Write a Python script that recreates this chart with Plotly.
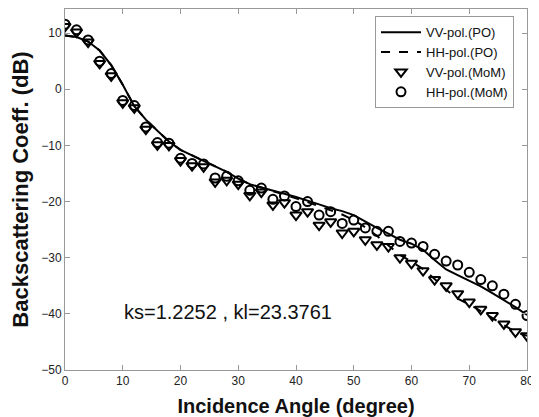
import plotly.graph_objects as go

# PO curves (incidence angle in degrees, backscatter in dB)
angle_po = [0, 2, 4, 6, 8, 10, 12, 14, 16, 18, 20, 22, 24, 26, 28, 30, 32, 34, 36, 38,
            40, 42, 44, 46, 48, 50, 52, 54, 56, 58, 60, 62, 64, 66, 68, 70, 72, 74, 76, 78, 80]
vv_po = [9.6, 9.3, 8.5, 6.9, 4.3, 0.8, -3.0, -5.4, -7.4, -9.3, -10.8, -11.8, -12.7, -13.7,
         -14.7, -15.9, -16.9, -17.5, -18.0, -18.6, -19.2, -19.8, -20.5, -21.2, -21.7, -22.4,
         -23.6, -24.7, -25.7, -26.8, -27.5, -28.6, -30.4, -32.1, -33.1, -34.1, -35.1, -36.3,
         -37.5, -38.8, -40.2]
hh_po = [9.6, 9.3, 8.5, 6.9, 4.3, 0.8, -3.0, -5.4, -7.4, -9.3, -10.8, -11.8, -12.7, -13.7,
         -14.7, -15.9, -16.9, -17.5, -18.1, -18.7, -19.4, -20.1, -20.8, -21.5, -22.3, -23.3,
         -24.6, -26.1, -27.8, -29.5, -30.7, -32.0, -33.8, -35.7, -37.3, -38.3, -39.5, -40.8,
         -42.0, -43.2, -43.9]

# MoM samples
angle_mom = [0, 2, 4, 6, 8, 10, 12, 14, 16, 18, 20, 22, 24, 26, 28, 30, 32, 34, 36, 38,
             40, 42, 44, 46, 48, 50, 52, 54, 56, 58, 60, 62, 64, 66, 68, 70, 72, 74, 76, 78, 80]
vv_mom = [11.2, 10.2, 8.4, 4.6, 2.4, -2.4, -3.3, -7.1, -9.9, -10.0, -12.7, -13.6, -13.8,
          -16.5, -16.2, -16.9, -18.9, -18.3, -20.6, -20.2, -22.4, -21.8, -24.2, -23.6, -25.6,
          -25.3, -26.8, -27.7, -28.0, -30.0, -31.0, -32.3, -33.9, -35.0, -36.4, -37.9, -39.2,
          -40.3, -41.8, -43.2, -43.9]
hh_mom = [11.6, 10.6, 8.8, 5.0, 2.8, -2.0, -2.9, -6.7, -9.5, -9.6, -12.3, -13.2, -13.3,
          -15.8, -15.5, -16.3, -18.0, -17.6, -19.6, -19.0, -20.9, -20.0, -22.4, -21.8, -23.9,
          -23.3, -24.7, -25.3, -25.3, -27.1, -27.4, -28.0, -29.4, -30.6, -31.3, -32.6, -33.9,
          -35.0, -36.5, -38.3, -40.3]

x_ticks = [0, 10, 20, 30, 40, 50, 60, 70, 80]
y_ticks = [-50, -40, -30, -20, -10, 0, 10]

FONT = "Liberation Sans, Arial"

fig = go.Figure()
fig.add_trace(go.Scatter(x=angle_po, y=vv_po, mode="lines", name="VV-pol.(PO)",
                         line=dict(color="black", width=2, dash="solid")))
fig.add_trace(go.Scatter(x=angle_po, y=hh_po, mode="lines", name="HH-pol.(PO)",
                         line=dict(color="black", width=2, dash="dash")))
fig.add_trace(go.Scatter(x=angle_mom, y=vv_mom, mode="markers", name="VV-pol.(MoM)",
                         marker=dict(symbol="triangle-down-open", size=10, color="black",
                                     line=dict(width=2, color="black"))))
fig.add_trace(go.Scatter(x=angle_mom, y=hh_mom, mode="markers", name="HH-pol.(MoM)",
                         marker=dict(symbol="circle-open", size=9, color="black",
                                     line=dict(width=2, color="black"))))

fig.add_annotation(x=28.2, y=-39.7, xref="x", yref="y", text="ks=1.2252 , kl=23.3761",
                   showarrow=False, font=dict(family=FONT, size=20, color="#111"))

axis_common = dict(showline=True, linecolor="#999", linewidth=1, mirror="ticks",
                   ticks="inside", ticklen=5, tickcolor="#999", showgrid=False, zeroline=False,
                   automargin=False,
                   tickfont=dict(family=FONT, size=12, color="#222"))

fig.update_xaxes(range=[0, 80], tickvals=x_ticks,
                 title=dict(text="<b>Incidence Angle (degree)</b>",
                            font=dict(family=FONT, size=20, color="#111")),
                 **axis_common)
fig.update_yaxes(range=[-50, 14.3], tickvals=y_ticks,
                 title=dict(text="<b>Backscattering Coeff. (dB)</b>",
                            font=dict(family=FONT, size=22, color="#111")),
                 **axis_common)

fig.update_layout(
    width=531, height=409,
    margin=dict(l=57, r=12, t=1, b=47),
    paper_bgcolor="white", plot_bgcolor="white",
    showlegend=True,
    legend=dict(x=0.671, y=0.98, xanchor="left", yanchor="top",
                bordercolor="#999", borderwidth=1, bgcolor="white",
                font=dict(family=FONT, size=13, color="#111"),
                tracegroupgap=0, itemwidth=40),
)

fig.write_html("out.html")
